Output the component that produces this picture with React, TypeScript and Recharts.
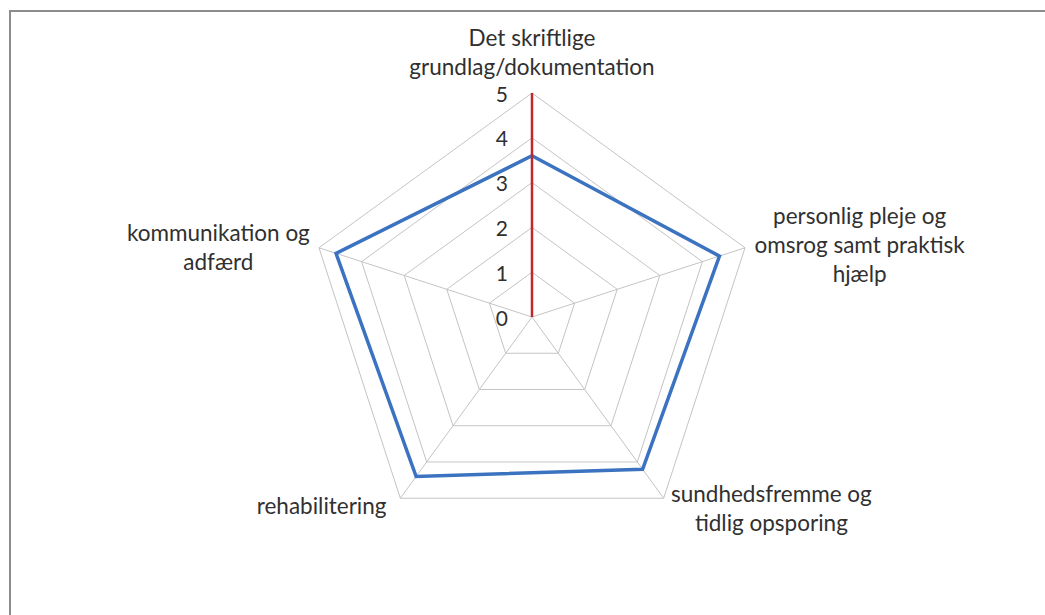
import React from "react";
import { RadarChart, Radar, PolarGrid, PolarAngleAxis, PolarRadiusAxis } from "recharts";

const categories = [
  "Det skriftlige\ngrundlag/dokumentation",
  "personlig pleje og\nomsrog samt praktisk\nhjælp",
  "sundhedsfremme og\ntidlig opsporing",
  "rehabilitering",
  "kommunikation og\nadfærd",
];
const values = [3.6, 4.4, 4.2, 4.4, 4.6];
const radiusTicks = [0, 1, 2, 3, 4, 5];

const data = categories.map((c, i) => ({ category: c, value: values[i] }));

const FONT = "Lato, 'Liberation Sans', sans-serif";
const LINE_H = 29;
// label block anchor offsets relative to the angle-axis tick point: [dx, dy of first line centre]
const LABEL_OFFSETS: [number, number][] = [
  [0, -48],
  [107, -30],
  [103, -12],
  [-74, 0],
  [-93, -13],
];

const AngleTick = (props: any) => {
  const { x, y, payload, index } = props;
  const lines = String(payload.value).split("\n");
  const off = LABEL_OFFSETS[index] || [0, 0];
  return (
    <text
      x={x + off[0]}
      y={y + off[1]}
      textAnchor="middle"
      dominantBaseline="central"
      fontFamily={FONT}
      fontSize={22.5}
      fill="#303030"
    >
      {lines.map((l, i) => (
        <tspan key={i} x={x + off[0]} y={y + off[1] + i * LINE_H}>
          {l}
        </tspan>
      ))}
    </text>
  );
};

const RadiusTick = (props: any) => {
  const { x, y, payload } = props;
  return (
    <text
      x={x - 24}
      y={y}
      textAnchor="end"
      dominantBaseline="central"
      fontFamily={FONT}
      fontSize={21}
      fill="#303030"
    >
      {payload.value}
    </text>
  );
};

export default function App() {
  return (
    <div style={{ position: "absolute", left: 0, top: 0, width: 1045, height: 615, background: "#fff", overflow: "hidden" }}>
      <div
        style={{
          position: "absolute",
          left: 9,
          top: 10,
          width: 1060,
          height: 640,
          border: "2px solid #8c8c8c",
          boxSizing: "border-box",
        }}
      />
      <div style={{ position: "absolute", left: 0, top: 0 }}>
        <RadarChart
          width={1045}
          height={615}
          data={data}
          cx={532}
          cy={317}
          outerRadius={224}
          margin={{ top: 0, right: 0, bottom: 0, left: 0 }}
        >
          <PolarGrid gridType="polygon" stroke="#c4c4c4" strokeWidth={1} />
          <PolarAngleAxis dataKey="category" tick={<AngleTick />} tickLine={false} axisLine={false} />
          <Radar
            dataKey="value"
            stroke="#3b73c0"
            strokeWidth={3.5}
            fill="none"
            fillOpacity={0}
            dot={false}
            isAnimationActive={false}
          />
          <PolarRadiusAxis
            angle={90}
            domain={[0, 5]}
            ticks={radiusTicks as any}
            tickCount={6}
            axisLine={{ stroke: "#c0282d", strokeWidth: 2.5 }}
            tick={<RadiusTick />}
            tickLine={false}
          />
        </RadarChart>
      </div>
    </div>
  );
}
